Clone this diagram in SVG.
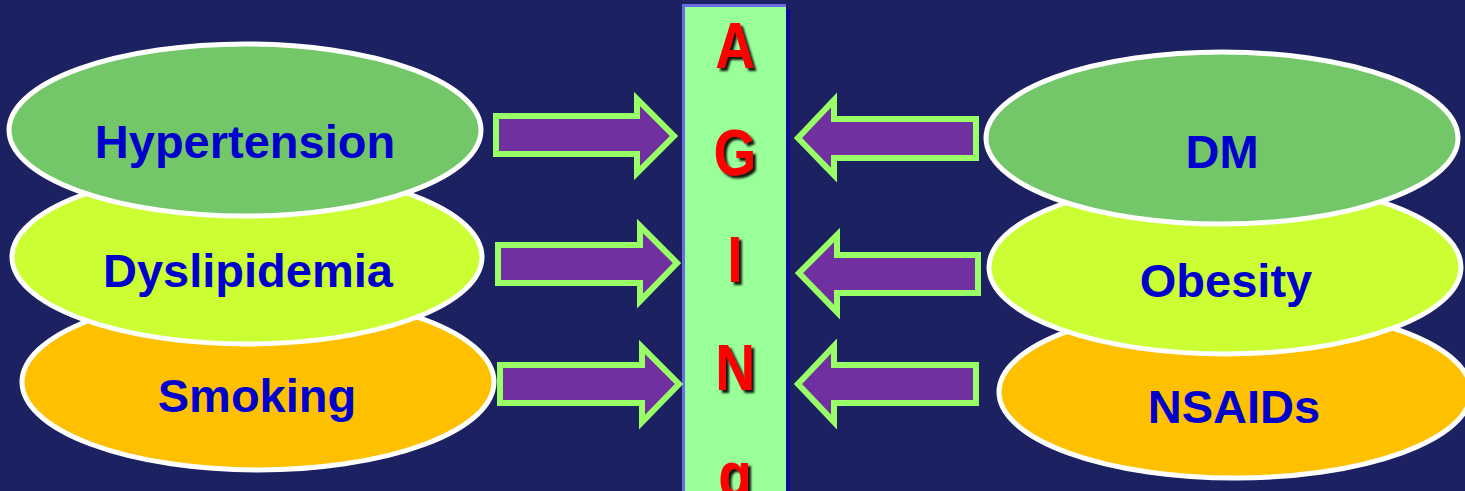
<svg xmlns="http://www.w3.org/2000/svg" width="1465" height="491" viewBox="0 0 1465 491">
<defs>
<filter id="sh" x="-30%" y="-30%" width="160%" height="160%">
<feDropShadow dx="3" dy="3" stdDeviation="1.2" flood-color="#000" flood-opacity="0.9"/>
</filter>
</defs>
<style>
.ell{stroke:#ffffff;stroke-width:5}
.g1{fill:#73c769}
.g2{fill:#ccff33}
.g3{fill:#ffc000}
.lbl{font-family:"Liberation Sans",Arial,sans-serif;font-weight:bold;font-size:47px;fill:#0000cc;text-anchor:middle}
.arr{fill:#7030a0;stroke:#99ff66;stroke-width:6;stroke-linejoin:miter}
.age{font-family:"Liberation Sans",Arial,sans-serif;font-weight:bold;font-size:64px;fill:#ff0000;text-anchor:middle}
</style>
<rect x="0" y="0" width="1465" height="491" fill="#1b2161"/>

<g id="bar">
<rect x="688" y="9" width="102" height="482" fill="#0a0a9a"/>
<rect x="682" y="4" width="104" height="487" fill="#6a6ae6"/>
<rect x="685" y="7" width="101" height="484" fill="#99ff99"/>
<g filter="url(#sh)">
<text class="age" transform="translate(735,68) scale(0.86,1)" x="0" y="0">A</text>
<text class="age" transform="translate(735,175) scale(0.86,1)" x="0" y="0">G</text>
<text class="age" transform="translate(735,282) scale(0.86,1)" x="0" y="0">I</text>
<text class="age" transform="translate(735,390) scale(0.86,1)" x="0" y="0">N</text>
<text class="age" transform="translate(735,497) scale(0.86,1)" x="0" y="0">g</text>
</g>
</g>

<g id="smoking">
<ellipse class="ell g3" cx="258" cy="382" rx="236" ry="88"/>
<text class="lbl" x="257" y="412">Smoking</text>
</g>
<g id="dyslipidemia">
<ellipse class="ell g2" cx="247" cy="257" rx="235" ry="87"/>
<text class="lbl" x="248" y="287">Dyslipidemia</text>
</g>
<g id="hypertension">
<ellipse class="ell g1" cx="245" cy="130" rx="236" ry="86"/>
<text class="lbl" x="245" y="158">Hypertension</text>
</g>

<g id="nsaids">
<ellipse class="ell g3" cx="1235" cy="392" rx="236" ry="86"/>
<text class="lbl" x="1234" y="423">NSAIDs</text>
</g>
<g id="obesity">
<ellipse class="ell g2" cx="1225" cy="267" rx="236" ry="87"/>
<text class="lbl" x="1226" y="297">Obesity</text>
</g>
<g id="dm">
<ellipse class="ell g1" cx="1222" cy="138" rx="236" ry="86"/>
<text class="lbl" x="1222" y="168">DM</text>
</g>

<g id="connectors">
<polygon class="arr" points="496,116 637,116 637,99 674,136 637,173 637,154 496,154"/>
<polygon class="arr" points="498,245 640,245 640,226 677,263 640,301 640,283 498,283"/>
<polygon class="arr" points="500,365 642,365 642,347 679,384 642,422 642,403 500,403"/>
<polygon class="arr" points="976,119 834,119 834,100 798,138 834,175 834,158 976,158"/>
<polygon class="arr" points="978,255 837,255 837,235 799,273 837,312 837,293 978,293"/>
<polygon class="arr" points="976,365 834,365 834,346 798,384 834,422 834,403 976,403"/>
</g>
</svg>
